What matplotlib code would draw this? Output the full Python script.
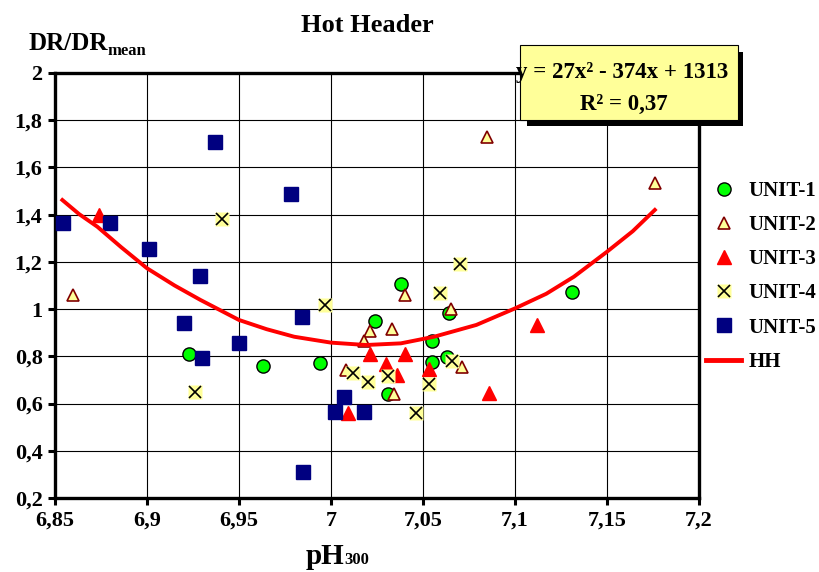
import matplotlib
matplotlib.use('agg')
import matplotlib.pyplot as plt
from matplotlib.lines import Line2D
from matplotlib.patches import Rectangle
from matplotlib.legend_handler import HandlerTuple

plt.rcParams['font.family'] = 'Liberation Serif'
plt.rcParams['font.weight'] = 'bold'

# data
u1_x = [6.923, 6.963, 6.994, 7.024, 7.038, 7.031, 7.055, 7.055, 7.064, 7.063, 7.131]
u1_y = [0.810, 0.760, 0.773, 0.948, 1.105, 0.640, 0.866, 0.776, 0.985, 0.798, 1.073]

u2_x = [6.860, 7.085, 7.176, 7.040, 7.021, 7.033, 7.018, 7.008, 7.034, 7.065, 7.071]
u2_y = [1.060, 1.730, 1.535, 1.060, 0.907, 0.916, 0.865, 0.740, 0.640, 1.000, 0.753]

u3_x = [6.874, 7.021, 7.040, 7.030, 7.036, 7.009, 7.053, 7.086, 7.112]
u3_y = [1.399, 0.809, 0.809, 0.766, 0.721, 0.559, 0.745, 0.643, 0.933]

u4_x = [6.941, 6.997, 6.926, 7.012, 7.020, 7.031, 7.046, 7.070, 7.059, 7.066, 7.053]
u4_y = [1.380, 1.017, 0.648, 0.728, 0.691, 0.718, 0.559, 1.191, 1.067, 0.780, 0.683]

u5_x = [6.937, 6.978, 6.8545, 6.880, 6.901, 6.929, 6.920, 6.930, 6.950, 6.984, 6.985, 7.007, 7.002, 7.018]
u5_y = [1.709, 1.488, 1.366, 1.366, 1.255, 1.140, 0.940, 0.794, 0.855, 0.968, 0.309, 0.629, 0.566, 0.566]

# HH trend line
hh_x = [6.854, 6.863, 6.873, 6.886, 6.900, 6.915, 6.929, 6.950, 6.965, 6.980, 7.000, 7.019, 7.038,
        7.056, 7.079, 7.100, 7.117, 7.132, 7.150, 7.164, 7.176]
hh_y = [1.462, 1.403, 1.349, 1.262, 1.173, 1.100, 1.039, 0.954, 0.915, 0.883, 0.858, 0.848, 0.855,
        0.883, 0.933, 1.003, 1.065, 1.137, 1.243, 1.330, 1.420]

x_ticks = [6.85, 6.9, 6.95, 7.0, 7.05, 7.1, 7.15, 7.2]
y_ticks = [0.2, 0.4, 0.6, 0.8, 1.0, 1.2, 1.4, 1.6, 1.8, 2.0]

W, H = 819, 572


def fx(px):
    return px / W


def fy(py):
    return 1 - py / H


fig = plt.figure(figsize=(8.19, 5.72), dpi=100)
ax = fig.add_axes([fx(55), fy(498), fx(699) - fx(55), fy(73) - fy(498)])

ms = 9.5
ax.plot(u1_x, u1_y, 'o', ms=ms, mfc='#00ff00', mec='black', mew=1.0, ls='none', zorder=3)
ax.plot(u2_x, u2_y, '^', ms=ms - 0.5, mfc='#ffff99', mec='#800000', mew=1.2, ls='none', zorder=3)
ax.plot(u3_x, u3_y, '^', ms=ms, mfc='red', mec='red', ls='none', zorder=3)
ax.plot(u4_x, u4_y, 's', ms=ms + 1, mfc='#ffff99', mec='none', ls='none', zorder=3)
ax.plot(u4_x, u4_y, 'x', ms=ms - 1.5, mec='black', mew=1.2, ls='none', zorder=3)
ax.plot(u5_x, u5_y, 's', ms=ms, mfc='#000080', mec='#000080', ls='none', zorder=3)
ax.plot(hh_x, hh_y, '-', color='red', lw=2.8, zorder=4)

ax.set_xlim(6.85, 7.2)
ax.set_ylim(0.2, 2.0)
ax.set_xticks(x_ticks)
ax.set_yticks(y_ticks)
ax.set_xticklabels([('%g' % v).replace('.', ',') for v in x_ticks])
ax.set_yticklabels([('%g' % v).replace('.', ',') for v in y_ticks])
ax.tick_params(labelsize=16, width=2.2, length=5, direction='out', pad=4)
ax.grid(True, color='black', lw=0.8)
ax.set_axisbelow(True)
for s in ax.spines.values():
    s.set_linewidth(2.4)

# legend
h1 = Line2D([], [], marker='o', ms=ms, mfc='#00ff00', mec='black', ls='none')
h2 = Line2D([], [], marker='^', ms=ms - 0.5, mfc='#ffff99', mec='#800000', mew=1.2, ls='none')
h3 = Line2D([], [], marker='^', ms=ms, mfc='red', mec='red', ls='none')
h4a = Line2D([], [], marker='s', ms=ms + 1, mfc='#ffff99', mec='none', ls='none')
h4b = Line2D([], [], marker='x', ms=ms - 1.5, mec='black', mew=1.2, ls='none')
h5 = Line2D([], [], marker='s', ms=ms, mfc='#000080', mec='#000080', ls='none')
h6 = Line2D([], [], color='red', lw=3.5)
fig.legend([h1, h2, h3, (h4a, h4b), h5, h6],
           ['UNIT-1', 'UNIT-2', 'UNIT-3', 'UNIT-4', 'UNIT-5', 'HH'],
           handler_map={tuple: HandlerTuple(ndivide=1, pad=0)},
           loc='upper left', bbox_to_anchor=(fx(706), fy(181)),
           frameon=False, fontsize=15, handlelength=1.7, handletextpad=0.35,
           labelspacing=0.68, borderpad=0, borderaxespad=0)

# equation box with drop shadow
fig.add_artist(Rectangle((fx(527), fy(126)), fx(743) - fx(527), fy(52) - fy(126),
                         transform=fig.transFigure, facecolor='black', edgecolor='none', zorder=5))
fig.add_artist(Rectangle((fx(520), fy(120)), fx(738) - fx(520), fy(45) - fy(120),
                         transform=fig.transFigure, facecolor='#ffff99', edgecolor='black',
                         lw=0.8, zorder=6))
fig.text(fx(622), fy(78), 'y = 27x² - 374x + 1313', ha='center', va='baseline',
         fontsize=16.5, zorder=7)
fig.text(fx(624), fy(110), 'R² = 0,37', ha='center', va='baseline', fontsize=16.5, zorder=7)

# titles and axis labels
fig.text(fx(367), fy(32), 'Hot Header', ha='center', va='baseline', fontsize=19)
fig.text(fx(28), fy(50), 'DR/DR', ha='left', va='baseline', fontsize=18)
fig.text(fx(107), fy(55), 'mean', ha='left', va='baseline', fontsize=12)
fig.text(fx(344), fy(564), 'pH', ha='right', va='baseline', fontsize=21)
fig.text(fx(344), fy(564), '300', ha='left', va='baseline', fontsize=12)

fig.savefig('out.png', dpi=100)
